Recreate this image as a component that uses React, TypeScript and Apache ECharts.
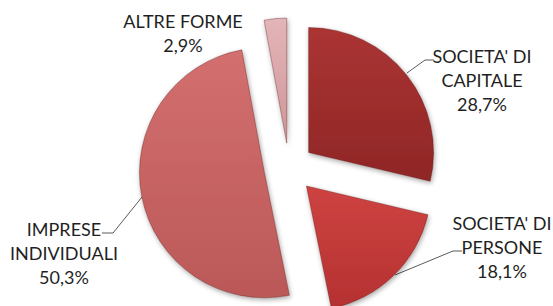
import React, { useEffect, useRef } from "react";
import * as echarts from "echarts";

const categories = ["SOCIETA' DI\nCAPITALE", "SOCIETA' DI\nPERSONE", "IMPRESE\nINDIVIDUALI", "ALTRE FORME"];
const values = [28.7, 18.1, 50.3, 2.9];
const percentLabels = ["28,7%", "18,1%", "50,3%", "2,9%"];

const sliceColors = [
  ["#AB3433", "#8F2626"],
  ["#CE4341", "#B53131"],
  ["#D36F6F", "#BB5858"],
  ["#E3B5B8", "#CF9598"],
];

// label placement (block centers) and leader lines
const labelPos = [
  { x: 482, y: 80, line: [[407, 73], [425, 60], [434, 60]] },
  { x: 502, y: 247, line: [[395, 275], [453, 251], [462, 251]] },
  { x: 64, y: 253, line: [[142, 197], [113, 233], [102, 233]] },
  { x: 183, y: 33, line: null as null | number[][] },
];

export default function App() {
  const ref = useRef<HTMLDivElement>(null);
  useEffect(() => {
    const chart = echarts.init(ref.current!, null, { renderer: "svg" });
    const data = values.map((v, i) => ({
      name: categories[i],
      value: v,
      selected: true,
      itemStyle: {
        color: new echarts.graphic.LinearGradient(0, 0, 0, 1, [
          { offset: 0, color: sliceColors[i][0] },
          { offset: 1, color: sliceColors[i][1] },
        ]),
      },
    }));
    const graphics: any[] = [];
    labelPos.forEach((p, i) => {
      graphics.push({
        type: "text",
        x: p.x,
        y: p.y,
        silent: true,
        style: {
          text: categories[i] + "\n" + percentLabels[i],
          textAlign: "center",
          textVerticalAlign: "middle",
          fontFamily: "Lato",
          fontSize: 18,
          lineHeight: 24,
          fill: "#1f1f1f",
        },
      });
      if (p.line) {
        graphics.push({
          type: "polyline",
          silent: true,
          shape: { points: p.line },
          style: { stroke: "#5a5a5a", lineWidth: 1, fill: null },
        });
      }
    });
    chart.setOption({
      animation: false,
      backgroundColor: "#ffffff",
      graphic: graphics,
      series: [
        {
          type: "pie",
          center: [289, 168],
          radius: 125,
          startAngle: 90,
          clockwise: true,
          selectedMode: "multiple",
          selectedOffset: 25,
          data,
          itemStyle: {
            borderColor: "rgba(90,20,20,0.35)",
            borderWidth: 1,
            shadowBlur: 5,
            shadowOffsetX: 1,
            shadowOffsetY: 2,
            shadowColor: "rgba(0,0,0,0.35)",
          },
          emphasis: { disabled: true },
          label: { show: false },
          labelLine: { show: false },
        },
      ],
    });
    return () => chart.dispose();
  }, []);
  return (
    <div
      ref={ref}
      style={{ position: "fixed", left: 0, top: 0, width: 553, height: 306, background: "#fff" }}
    />
  );
}
